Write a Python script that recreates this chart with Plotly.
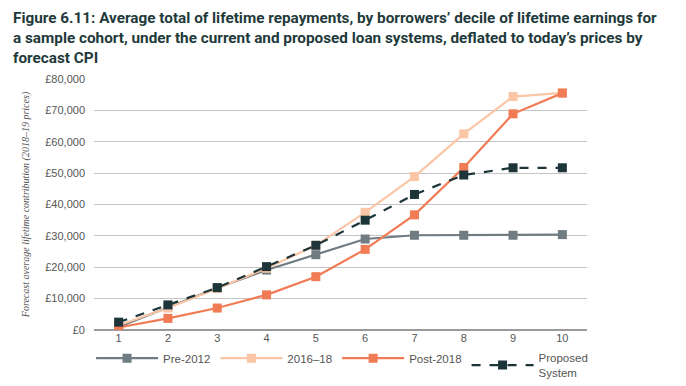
import plotly.graph_objects as go

deciles = [1, 2, 3, 4, 5, 6, 7, 8, 9, 10]
pre_2012 = [1000, 7300, 13400, 19100, 24000, 29000, 30200, 30200, 30200, 30400]
y2016_18 = [1500, 7000, 13200, 19700, 27000, 37500, 48900, 62500, 74400, 75600]
post_2018 = [800, 3700, 7000, 11200, 17000, 25700, 36700, 51800, 68900, 75500]
proposed = [2500, 8000, 13500, 20200, 27000, 35000, 43200, 49400, 51700, 51700]

y_ticks = [0, 10000, 20000, 30000, 40000, 50000, 60000, 70000, 80000]
y_tick_labels = ["£0", "£10,000", "£20,000", "£30,000", "£40,000", "£50,000",
                 "£60,000", "£70,000", "£80,000"]

series = [
    ("Pre-2012", pre_2012, "#6f7c81", "solid"),
    ("2016–18", y2016_18, "#fbc6a6", "solid"),
    ("Post-2018", post_2018, "#f07b55", "solid"),
    ("Proposed<br>System", proposed, "#1d3539", "dash"),
]

fig = go.Figure()
for name, vals, color, dash in series:
    fig.add_trace(go.Scatter(
        x=deciles, y=vals, name=name, mode="lines+markers",
        line=dict(color=color, width=2.2, dash=dash),
        marker=dict(symbol="square", size=9, color=color),
    ))

title_text = ("<b>Figure 6.11: Average total of lifetime repayments, by borrowers’ decile of lifetime earnings for<br>"
              "a sample cohort, under the current and proposed loan systems, deflated to today’s prices by<br>"
              "forecast CPI</b>")

fig.add_annotation(
    text=title_text, xref="paper", yref="paper", x=-0.168, y=1.285,
    xanchor="left", yanchor="top", align="left", showarrow=False,
    font=dict(family="Roboto, sans-serif", size=15.3, color="#1f3a3b"),
)

fig.update_layout(
    width=678, height=378,
    margin=dict(l=86, r=99, t=71, b=56, autoexpand=False),
    paper_bgcolor="white", plot_bgcolor="white",
    xaxis=dict(
        range=[0.5, 10.5], tickvals=deciles, ticktext=[str(d) for d in deciles],
        showgrid=False, zeroline=False, showline=False,
        tickfont=dict(family="Liberation Sans, Arial, sans-serif", size=11, color="#555555"),
        ticks="",
    ),
    yaxis=dict(
        range=[0, 80000], tickvals=y_ticks, ticktext=y_tick_labels,
        showgrid=True, gridcolor="#c4c4c4", gridwidth=1.3,
        zeroline=True, zerolinecolor="#9a9a9a", zerolinewidth=1.5,
        showline=False, ticks="",
        tickfont=dict(family="Liberation Sans, Arial, sans-serif", size=11, color="#555555"),
        ticklabelstandoff=8,
        title=dict(
            text="<i>Forecast average lifetime contribution (2018–19 prices)</i>",
            font=dict(family="Liberation Serif, serif", size=10, color="#555555"),
            standoff=13,
        ),
    ),
    legend=dict(
        orientation="h", x=-0.006, xanchor="left", y=-0.14, yanchor="middle",
        itemwidth=62, font=dict(family="Liberation Sans, Arial, sans-serif", size=11.5, color="#555555"),
        tracegroupgap=0, itemclick=False,
    ),
    showlegend=True,
)

fig.write_html("out.html")
